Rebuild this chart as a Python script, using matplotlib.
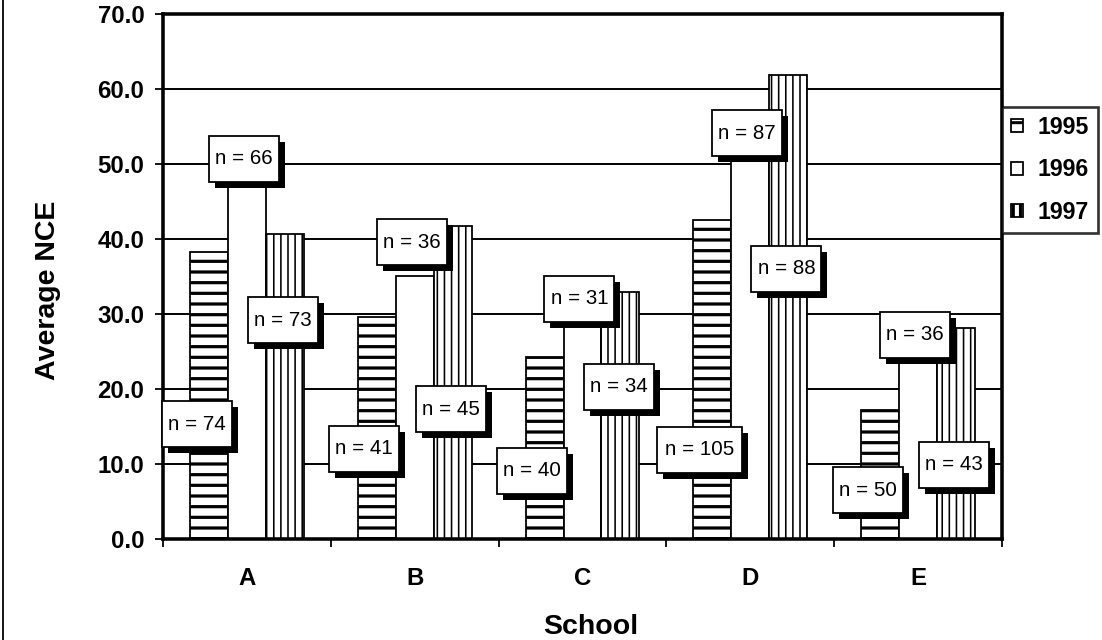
import numpy as np
import matplotlib
matplotlib.use("Agg")
import matplotlib.pyplot as plt
from matplotlib.patches import Rectangle, Patch
from matplotlib.lines import Line2D
from matplotlib.transforms import ScaledTranslation

# ---------------- data ----------------
schools = ["A", "B", "C", "D", "E"]
years = ["1995", "1996", "1997"]
nce_1995 = [38.3, 29.6, 24.3, 42.5, 17.2]
nce_1996 = [49.0, 35.1, 31.0, 53.0, 26.0]
nce_1997 = [40.7, 41.7, 32.9, 61.9, 28.1]
n_1995 = [74, 41, 40, 105, 50]
n_1996 = [66, 36, 31, 87, 36]
n_1997 = [73, 45, 34, 88, 43]
yticks = [0, 10, 20, 30, 40, 50, 60, 70]

# ---------------- layout (label placement, not data) ----------------
label_y_1995 = [15.3, 12.0, 9.1, 11.9, 6.5]
label_y_1996 = [50.7, 39.6, 32.0, 54.1, 27.2]
label_y_1997 = [29.2, 17.3, 20.3, 36.0, 9.9]
label_dx = [-0.30, -0.018, 0.215]

DPI = 128
W, H = 1102, 640
plt.rcParams['font.family'] = ['Liberation Sans', 'DejaVu Sans']
plt.rcParams['hatch.linewidth'] = 1.7

fig = plt.figure(figsize=(W / DPI, H / DPI), dpi=DPI)
ax = fig.add_axes([163 / W, 1 - 539 / H, (1002 - 163) / W, (539 - 14) / H])

x = np.arange(len(schools))
width = 0.226
offsets = [-width, 0.0, width]
series = [nce_1995, nce_1996, nce_1997]
hatches = ['--', '', '|||']
hatch_lw = [1.8, 1.0, 0.9]

for i, vals in enumerate(series):
    bars = ax.bar(x + offsets[i], vals, width, facecolor='white', edgecolor='black',
                  linewidth=1.0, hatch=hatches[i] if hatches[i] else None, zorder=2)
    for b in bars:
        if hasattr(b, 'set_hatch_linewidth'):
            try:
                b.set_hatch_linewidth(hatch_lw[i])
            except Exception:
                pass

ax.set_xlim(-0.5, len(schools) - 0.5)
ax.set_ylim(0, 70)
ax.set_yticks(yticks)
ax.set_yticklabels([f"{v:.1f}" for v in yticks], fontsize=13.5, fontweight='bold')
ax.set_xticks(x)
ax.set_xticklabels(schools, fontsize=13.5, fontweight='bold')
ax.set_xticks(np.arange(-0.5, len(schools), 1.0), minor=True)
ax.tick_params(axis='x', which='major', length=0, pad=16)
ax.tick_params(axis='x', which='minor', length=4.5, width=1.0, direction='out')
ax.tick_params(axis='y', which='major', length=4.5, width=1.0, direction='out', pad=6)

ax.yaxis.grid(True, color='black', linewidth=1.1)
ax.set_axisbelow(True)
for s in ax.spines.values():
    s.set_linewidth(2.0)
    s.set_color('black')

ax.set_ylabel("Average NCE", fontsize=16, fontweight='bold')
ax.yaxis.set_label_coords(-0.122, 0.474)
ax.set_xlabel("School", fontsize=16, fontweight='bold')
ax.xaxis.set_label_coords(0.51, -0.143)

# ---------------- n = labels with drop shadow ----------------
all_n = [n_1995, n_1996, n_1997]
all_ly = [label_y_1995, label_y_1996, label_y_1997]
for i in range(3):
    for j in range(len(schools)):
        txt = f"n = {all_n[i][j]}"
        wpx = 70 + 15 * (len(str(all_n[i][j])) - 2)
        hpx = 46
        xd = x[j] + label_dx[i]
        yd = all_ly[i][j]
        trans = fig.dpi_scale_trans + ScaledTranslation(xd, yd, ax.transData)
        sh = 6 / DPI
        ax.add_patch(Rectangle((-wpx / 2 / DPI + sh, -hpx / 2 / DPI - sh), wpx / DPI, hpx / DPI,
                               transform=trans, facecolor='black', edgecolor='black',
                               linewidth=0, zorder=5, clip_on=False))
        ax.add_patch(Rectangle((-wpx / 2 / DPI, -hpx / 2 / DPI), wpx / DPI, hpx / DPI,
                               transform=trans, facecolor='white', edgecolor='black',
                               linewidth=1.0, zorder=6, clip_on=False))
        ax.text(xd, yd, txt, ha='center', va='center', fontsize=11.5, zorder=7,
                transform=ax.transData)

# ---------------- legend ----------------
handles = [Patch(facecolor='white', edgecolor='black', hatch=h if h else None, linewidth=1.0)
           for h in hatches]
leg = ax.legend(handles, years, loc='center left', bbox_to_anchor=(1.0, 0.703),
                frameon=True, fancybox=False, borderaxespad=0, handlelength=0.5,
                handleheight=0.5, handletextpad=0.65, labelspacing=0.85, borderpad=0.4,
                prop={'weight': 'bold', 'size': 13})
leg.get_frame().set_edgecolor('black')
leg.get_frame().set_linewidth(1.5)

# figure border on the left
fig.add_artist(Line2D([3 / W, 3 / W], [0, 1], color='black', linewidth=1.0))

fig.savefig("out.png", dpi=DPI)
